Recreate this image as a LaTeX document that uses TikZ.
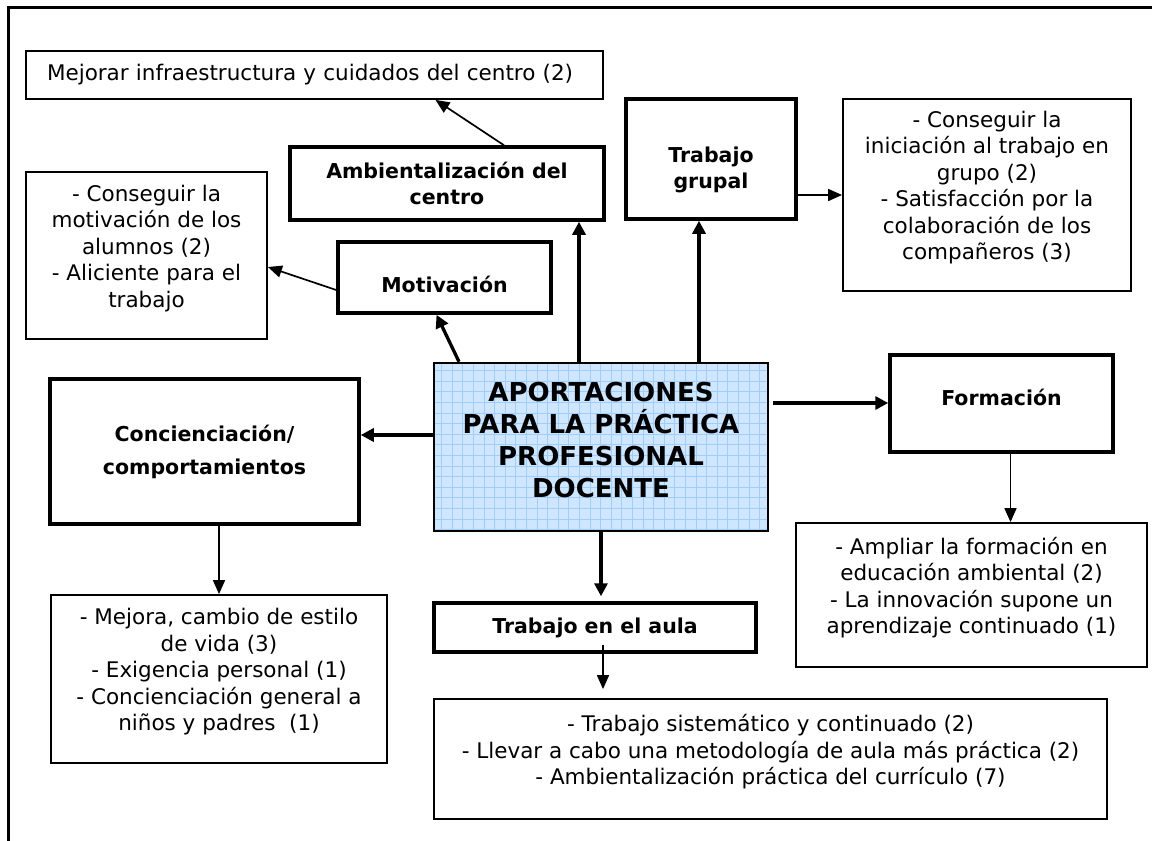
\documentclass[tikz,border=0pt]{standalone}
\usepackage{fontspec}
\setmainfont{DejaVu Sans}
\usetikzlibrary{arrows.meta,positioning,calc}
\definecolor{hubfill}{RGB}{206,230,255}
\definecolor{hubgrid}{RGB}{160,205,250}
\newcommand{\bodyfont}{\fontsize{21.5}{26.5}\selectfont}
\newcommand{\labelfont}{\bfseries\fontsize{20.5}{26}\selectfont}
\newcommand{\hubfont}{\bfseries\fontsize{26}{32}\selectfont}

\begin{document}
\begin{tikzpicture}[x=1pt, y=-1pt,
    thinbox/.style={draw, line width=1.8pt, align=center, font=\bodyfont},
    resultbox/.style={thinbox, text depth=19pt},
    thickbox/.style={draw, line width=3.5pt, align=center, font=\labelfont},
    hubbox/.style={draw, line width=2.5pt, fill=hubfill, align=center, font=\hubfont, text depth=14pt,
        path picture={\draw[hubgrid, line width=0.6pt] (path picture bounding box.south west) grid[step=10.6pt] (path picture bounding box.north east);}},
    thickarrow/.style={line width=3.3pt, -{Triangle[length=13pt,width=13pt]}},
    thinarrow/.style={line width=1.7pt, -{Triangle[length=14pt,width=12pt]}}]

    \useasboundingbox (0,0) rectangle (1152,841);

    % Frame (top and left edges only)
    \draw[line width=3pt] (8.5,841) -- (8.5,7.5) -- (1152,7.5);

    % Central box
    \node[hubbox, minimum width=334pt, minimum height=168pt] (centre) at (601,447)
        {APORTACIONES\\PARA LA PRÁCTICA\\PROFESIONAL\\DOCENTE};

    % Branches
    \node[thickbox, minimum width=314pt, minimum height=73pt] (ambiente) at (447,183.5)
        {Ambientalización del\\centro};
    \node[thickbox, minimum width=170pt, minimum height=120pt] (grupal) at (711,159)
        {\mbox{}\\[11pt]Trabajo\\grupal};
    \node[thickbox, minimum width=213pt, minimum height=71pt, text height=30pt] (motivacion) at (444.5,277.5)
        {Motivación};
    \node[thickbox, minimum width=309pt, minimum height=145pt] (conc) at (204.5,451.5)
        {Concienciación/\\[7pt]comportamientos};
    \node[thickbox, minimum width=223pt, minimum height=97pt, text depth=13pt] (formacion) at (1001.5,403.5)
        {Formación};
    \node[thickbox, minimum width=322pt, minimum height=49pt] (aula) at (595,627.5)
        {Trabajo en el aula};

    % Results
    \node[thinbox, minimum height=48pt, text width=535pt, inner xsep=21pt, align=left] (mejora) at (314.5,75)
        {Mejorar infraestructura y cuidados del centro (2)};
    \node[resultbox, minimum width=288pt, minimum height=192pt] (grupalres) at (987,195)
        {- Conseguir la\\iniciación al trabajo en\\grupo (2)\\- Satisfacción por la\\colaboración de los\\compañeros (3)};
    \node[resultbox, minimum width=241pt, minimum height=167pt] (motivres) at (146.5,255.5)
        {- Conseguir la\\motivación de los\\alumnos (2)\\- Aliciente para el\\trabajo};
    \node[resultbox, minimum width=336pt, minimum height=168pt] (concres) at (219,679)
        {- Mejora, cambio de estilo\\de vida (3)\\- Exigencia personal (1)\\- Concienciación general a\\niños y padres~~(1)};
    \node[resultbox, minimum width=351pt, minimum height=144pt] (formres) at (971.5,595)
        {- Ampliar la formación en\\educación ambiental (2)\\- La innovación supone un\\aprendizaje continuado (1)};
    \node[resultbox, minimum width=673pt, minimum height=120pt] (aulares) at (770.5,759)
        {- Trabajo sistemático y continuado (2)\\- Llevar a cabo una metodología de aula más práctica (2)\\- Ambientalización práctica del currículo (7)};

    % Arrows from the central box
    \draw[thickarrow] ([xshift=-22pt]centre.north) -- ([xshift=-22pt]centre.north |- ambiente.south);
    \draw[thickarrow] ([xshift=98pt]centre.north) -- ([xshift=98pt]centre.north |- grupal.south);
    \draw[thickarrow] ([xshift=-142pt]centre.north) -- ([xshift=-8pt]motivacion.south);
    \draw[thickarrow] ([yshift=12pt]centre.west) -- ([yshift=12pt]centre.west -| conc.east);
    \draw[thickarrow, shorten <=4pt] ([yshift=44pt]centre.east) -- ([yshift=44pt]centre.east -| formacion.west);
    \draw[thickarrow, shorten >=5pt] (centre.south) -- (centre.south |- aula.north);

    % Arrows to the results
    \draw[thinarrow] ([xshift=57pt]ambiente.north) -- ([xshift=121pt]mejora.south);
    \draw[thinarrow] ([yshift=-12.5pt]motivacion.west) -- ([yshift=-11.5pt]motivres.east);
    \draw[thinarrow] ([yshift=-36pt]grupal.east) -- ([yshift=-36pt]grupal.east -| grupalres.west);
    \draw[thinarrow] (concres.north |- conc.south) -- (concres.north);
    \draw[thinarrow] ([xshift=9pt]formacion.south) -- ([xshift=9pt]formacion.south |- formres.north);
    \draw[thinarrow, shorten >=9pt] ([xshift=8pt,yshift=9pt]aula.south) -- ([xshift=8pt]aula.south |- aulares.north);

\end{tikzpicture}
\end{document}
